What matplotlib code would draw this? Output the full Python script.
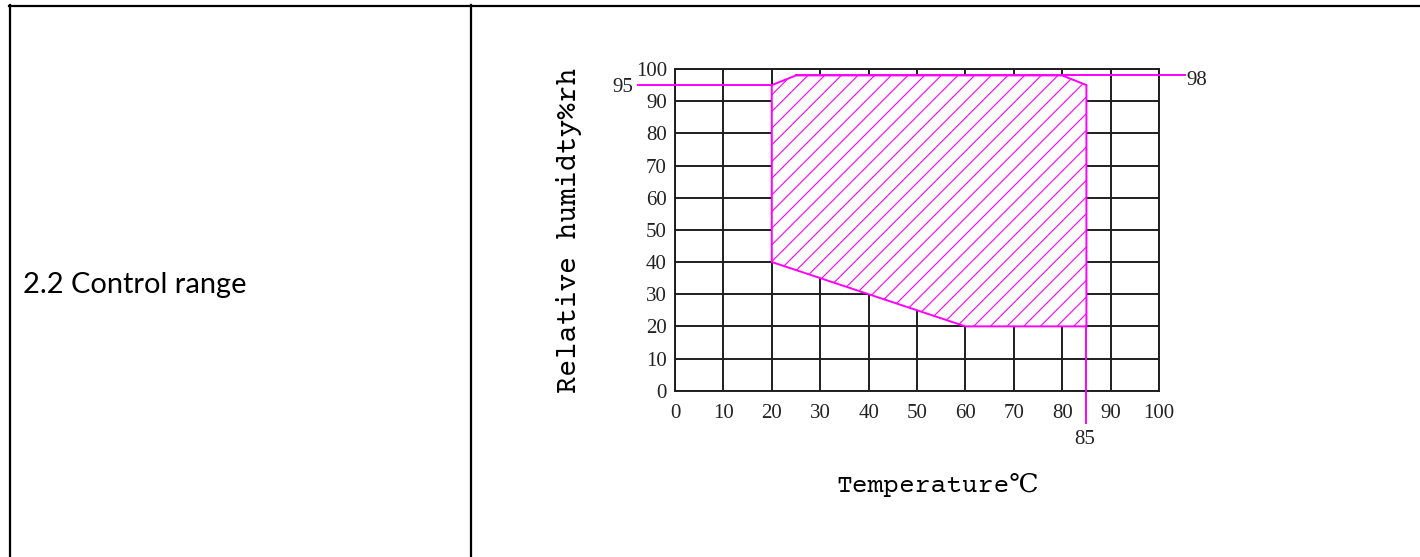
import matplotlib
matplotlib.use("Agg")
import matplotlib.pyplot as plt
from matplotlib.lines import Line2D
from matplotlib import font_manager as fm

# ---- data ----
temp_boundary = [20, 20, 25, 80, 85, 85, 60, 20]   # °C
rh_boundary = [40, 95, 98, 98, 95, 20, 20, 40]     # %rh
x_ticks = [0, 10, 20, 30, 40, 50, 60, 70, 80, 90, 100]
y_ticks = [0, 10, 20, 30, 40, 50, 60, 70, 80, 90, 100]
mark_rh_low = 95
mark_rh_high = 98
mark_temp_high = 85
row_label = "2.2 Control range"
x_label = "Temperature℃"
y_label = "Relative humidty%rh"

W, H = 1420, 557
MAG = "#ff00ff"
INK = "#1e1e1e"
plt.rcParams["hatch.linewidth"] = 0.8

names = {f.name for f in fm.fontManager.ttflist}
mono_candidates = ["Courier Prime", "Liberation Mono"]
label_font = next((n for n in mono_candidates if n in names), "Liberation Serif")

fig = plt.figure(figsize=(W / 100, H / 100), dpi=100)

def fx(px):
    return px / W

def fy(py):
    return (H - py) / H

# table borders
fig.add_artist(Line2D([fx(9), 1.0], [fy(5.5), fy(5.5)], color="black", lw=1.6))
fig.add_artist(Line2D([fx(10), fx(10)], [fy(5), 0], color="black", lw=1.6))
fig.add_artist(Line2D([fx(471), fx(471)], [fy(5), 0], color="black", lw=1.6))

ax = fig.add_axes([fx(675), fy(390.7), (1159 - 675) / W, (390.7 - 69) / H])
ax.set_xlim(0, 100)
ax.set_ylim(0, 100)
ax.set_xticks(x_ticks)
ax.set_yticks(y_ticks)
ax.set_xticklabels([str(v) for v in x_ticks])
ax.set_yticklabels([str(v) for v in y_ticks])
tick_font = {"family": "Liberation Serif", "size": 15}
for lab in ax.get_xticklabels() + ax.get_yticklabels():
    lab.set_fontfamily("Liberation Serif")
    lab.set_fontsize(15)
    lab.set_color("#222222")
ax.tick_params(axis="x", length=0, pad=9.5)
ax.tick_params(axis="y", length=0, pad=5.8)
ax.grid(True, color=INK, lw=1.4)
ax.set_axisbelow(True)
for s in ax.spines.values():
    s.set_color(INK)
    s.set_linewidth(1.4)

# control region
ax.fill(temp_boundary, rh_boundary, facecolor="white", edgecolor=MAG,
        hatch="//", lw=1.4, zorder=3)

# extension lines
ax.plot([-7.7, temp_boundary[1]], [mark_rh_low, mark_rh_low], color=MAG, lw=1.4,
        clip_on=False, zorder=4)
ax.plot([temp_boundary[2], 105.4], [mark_rh_high, mark_rh_high], color=MAG, lw=1.4,
        clip_on=False, zorder=4)
ax.plot([mark_temp_high, mark_temp_high], [-10, 20], color=MAG, lw=1.4,
        clip_on=False, zorder=4)

ax.text(-8.7, 92.9, str(mark_rh_low), ha="right", va="baseline", clip_on=False,
        color="#222222", **tick_font)
ax.text(105.6, 95.0, str(mark_rh_high), ha="left", va="baseline", clip_on=False,
        color="#222222", **tick_font)
ax.text(84.7, -16.5, str(mark_temp_high), ha="center", va="baseline", clip_on=False,
        color="#222222", **tick_font)

label_fam = [label_font, "Liberation Serif", "DejaVu Serif"]
t_y = fig.text(fx(569), fy(230.5), y_label, rotation=90, ha="center", va="center",
               family=label_fam, fontsize=20.4, color="black")
t_x = fig.text(fx(938), fy(492), x_label, ha="center", va="baseline",
               family=label_fam, fontsize=20.4, color="black")
t_r = fig.text(fx(23), fy(293), row_label, ha="left", va="baseline",
               family=["Lato", "DejaVu Sans"], fontsize=20.5, color="black")

renderer = fig.canvas.get_renderer()

def fit(t, target, vertical=False):
    bb = t.get_window_extent(renderer)
    cur = bb.height if vertical else bb.width
    t.set_fontsize(t.get_fontsize() * target / cur)

fit(t_y, 325, vertical=True)
fit(t_x, 203)
fit(t_r, 224)

fig.savefig("out.png", dpi=100, facecolor="white")
